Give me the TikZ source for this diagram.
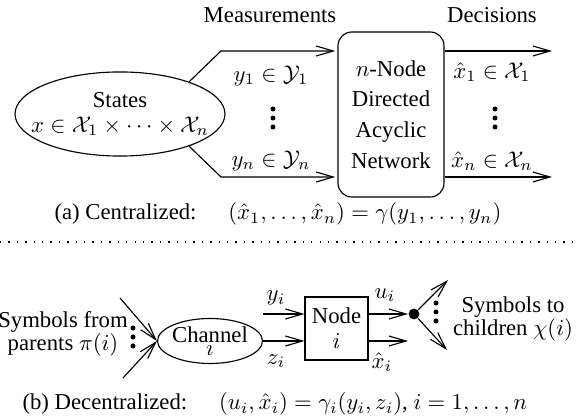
\documentclass[tikz,border=0pt]{standalone}
\usepackage{amsmath,amssymb}
\usepackage[no-math]{fontspec}
\setmainfont{Liberation Serif}
\usetikzlibrary{arrows.meta,shapes.geometric}

\begin{document}
\begin{tikzpicture}[x=.44pt,y=-.44pt,line width=.5pt,
    >={Straight Barb[length=7.5pt,width=4.4pt]},
    oval/.style={draw,ellipse,inner sep=0pt},
    capt/.style={anchor=base west,inner sep=0pt}]
  \useasboundingbox (0,0) rectangle (580,419);

  % (a) centralized
  \node[oval,minimum width=92.4pt,minimum height=37pt,
    label={[align=center]center:States\\[-1pt]$x\in\mathcal{X}_1\times\cdots\times\mathcal{X}_n$}] (st) at (120,114) {};
  \node[draw,rounded corners=6pt,minimum width=46.6pt,minimum height=72.6pt,align=center] (net) at (391,114.5)
    {$n$-Node\\[1.5pt]Directed\\[1.5pt]Acyclic\\[1.5pt]Network};
  \node[anchor=base] (meas) at (270,23) {Measurements};
  \node[anchor=base] (dec) at (492,23) {Decisions};

  \coordinate (m1) at (221,51);
  \coordinate (mn) at (221,177);
  \coordinate (d1) at (552,51);
  \coordinate (dn) at (552,177);
  \draw[->,shorten >=1pt] (st.25) -- (m1) -- (m1 -| net.west);
  \draw[->,shorten >=1pt] (st.-25) -- (mn) -- (mn -| net.west);
  \draw[->] (net.east |- d1) -- (d1);
  \draw[->] (net.east |- dn) -- (dn);

  \node (y1) at (271,76) {$y_1\in\mathcal{Y}_1$};
  \node (yn) at (271,161) {$y_n\in\mathcal{Y}_n$};
  \node (x1) at (492,72) {$\hat{x}_1\in\mathcal{X}_1$};
  \node (xn) at (492,161) {$\hat{x}_n\in\mathcal{X}_n$};
  \foreach \x in {273,495}
    \foreach \y in {109,118,127}
      \fill (\x,\y) circle (1.1pt);

  \node[capt] (capa) at (54,220)
    {(a) Centralized:\hspace{1.4em}$(\hat{x}_1,\dots,\hat{x}_n)=\gamma(y_1,\dots,y_n)$};

  \draw[line width=.6pt,dash pattern=on .6pt off 3.1pt] (0,242) -- (580,242);

  % (b) decentralized
  \node[oval,minimum width=46.2pt,minimum height=19.8pt,
    label={[align=center]center:Channel\\[-6.5pt]$i$}] (ch) at (210,341) {};
  \node[draw,minimum size=27.7pt,inner sep=0pt,align=center] (nd) at (336.5,328.5) {Node\\[-1pt]$i$};
  \node[circle,fill,inner sep=0pt,minimum size=4.8pt] (jn) at (414,314) {};

  \coordinate (p1) at (120,298);
  \coordinate (p2) at (123,378);
  \coordinate (yi) at (263,314);
  \coordinate (xo) at (408,341);
  \coordinate (c1) at (448,280);
  \coordinate (c2) at (447,350);
  \draw[->] (p1) -- (ch.west);
  \draw[->] (p2) -- (ch.west);
  \draw[->] (yi) -- (yi -| nd.west);
  \draw[->] (ch.east) -- (ch.east -| nd.west);
  \draw[->] (nd.east |- yi) -- (jn.west);
  \draw[->] (nd.east |- xo) -- (xo);
  \draw[->] (jn) -- (c1);
  \draw[->] (jn) -- (c2);

  \node (ly) at (276,298) {$y_i$};
  \node (lz) at (276,361) {$z_i$};
  \node (lu) at (385,295) {$u_i$};
  \node (lx) at (382,362) {$\hat{x}_i$};
  \foreach \y in {328,337,346}
    \fill (133,\y) circle (1.1pt);
  \foreach \y in {303,312,321}
    \fill (436,\y) circle (1.1pt);

  \node[align=center] (from) at (63,334) {Symbols from\\[-2pt]parents $\pi(i)$};
  \node[align=center] (to) at (513,319) {Symbols to\\[-2pt]children $\chi(i)$};

  \node[capt] (capb) at (22,410)
    {(b) Decentralized:\hspace{1.4em}$(u_i,\hat{x}_i)=\gamma_i(y_i,z_i)$, $i=1,\dots,n$};
\end{tikzpicture}
\end{document}
